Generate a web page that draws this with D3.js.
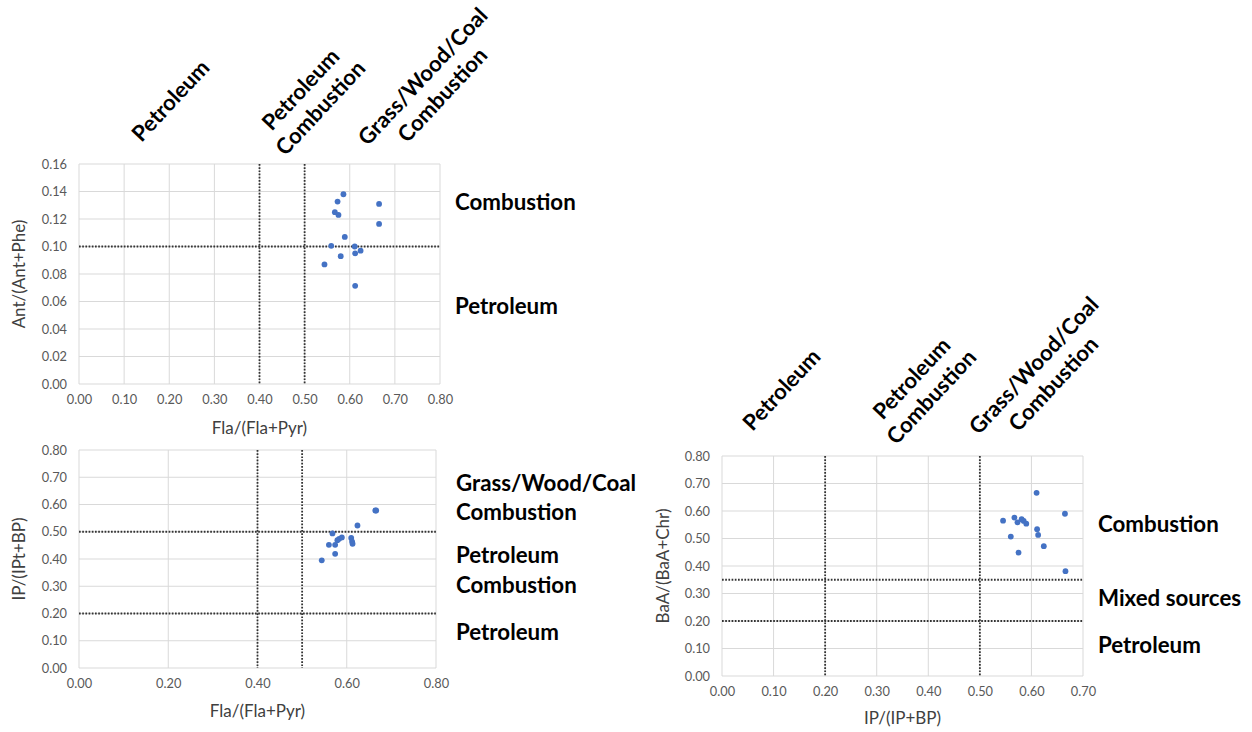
<!DOCTYPE html>
<html><head><meta charset="utf-8">
<script src="https://cdn.jsdelivr.net/npm/d3@7"></script>
<style>body{margin:0;background:#fff}</style>
</head><body>
<svg id="c" width="1252" height="732"></svg>
<script>
// ---- data ----
const p1X = [0.544,0.559,0.567,0.573,0.575,0.580,0.586,0.589,0.611,0.612,0.612,0.624,0.665,0.665];
const p1Y = [0.087,0.1005,0.125,0.1327,0.123,0.093,0.138,0.107,0.100,0.095,0.0714,0.097,0.131,0.1164];
const p2X = [0.544,0.560,0.568,0.574,0.574,0.579,0.583,0.589,0.610,0.612,0.613,0.624,0.664,0.666];
const p2Y = [0.395,0.452,0.494,0.452,0.419,0.469,0.474,0.479,0.477,0.464,0.456,0.523,0.578,0.578];
const p3X = [0.545,0.560,0.567,0.573,0.575,0.581,0.585,0.590,0.610,0.611,0.613,0.624,0.665,0.666];
const p3Y = [0.565,0.507,0.576,0.559,0.449,0.570,0.564,0.554,0.666,0.534,0.513,0.472,0.590,0.381];
const p1XTicks = [0,0.1,0.2,0.3,0.4,0.5,0.6,0.7,0.8];
const p1YTicks = [0,0.02,0.04,0.06,0.08,0.10,0.12,0.14,0.16];
const p2XTicks = [0,0.2,0.4,0.6,0.8];
const p2YTicks = [0,0.1,0.2,0.3,0.4,0.5,0.6,0.7,0.8];
const p3XTicks = [0,0.1,0.2,0.3,0.4,0.5,0.6,0.7];
const p3YTicks = [0,0.1,0.2,0.3,0.4,0.5,0.6,0.7,0.8];
const p1VLines = [0.4,0.5], p1HLines = [0.10];
const p2VLines = [0.4,0.5], p2HLines = [0.5,0.2];
const p3VLines = [0.2,0.5], p3HLines = [0.35,0.20];
const titles = [["Fla/(Fla+Pyr)","Ant/(Ant+Phe)"],["Fla/(Fla+Pyr)","IP/(IPt+BP)"],["IP/(IP+BP)","BaA/(BaA+Chr)"]];

const svg = d3.select("#c");
const FONT = "Lato, 'Open Sans', sans-serif";

function panel(o){
  const x = d3.scaleLinear().domain(o.xd).range([o.x0,o.x1]);
  const y = d3.scaleLinear().domain(o.yd).range([o.y1,o.y0]);
  const g = svg.append("g");
  // grid
  g.selectAll(".vg").data(o.xt).join("line")
    .attr("x1",d=>x(d)).attr("x2",d=>x(d)).attr("y1",o.y0).attr("y2",o.y1)
    .attr("stroke","#d9d9d9").attr("stroke-width",1);
  g.selectAll(".hg").data(o.yt).join("line")
    .attr("y1",d=>y(d)).attr("y2",d=>y(d)).attr("x1",o.x0).attr("x2",o.x1)
    .attr("stroke","#d9d9d9").attr("stroke-width",1);
  // axes
  const xa = g.append("g").attr("transform",`translate(0,${o.y1})`)
    .call(d3.axisBottom(x).tickValues(o.xt).tickFormat(d3.format(".2f")).tickSize(0).tickPadding(11));
  const ya = g.append("g").attr("transform",`translate(${o.x0},0)`)
    .call(d3.axisLeft(y).tickValues(o.yt).tickFormat(d3.format(".2f")).tickSize(0).tickPadding(12));
  [xa,ya].forEach(a=>{
    a.select(".domain").remove();
    a.selectAll("text").attr("fill","#595959").style("font-family",FONT).style("font-size","12.8px");
  });
  // threshold lines
  g.selectAll(".vl").data(o.vl).join("line")
    .attr("x1",d=>x(d)).attr("x2",d=>x(d)).attr("y1",o.y0).attr("y2",o.y1)
    .attr("stroke","#333").attr("stroke-width",1.8).attr("stroke-dasharray","1.7,1.5");
  g.selectAll(".hl").data(o.hl).join("line")
    .attr("y1",d=>y(d)).attr("y2",d=>y(d)).attr("x1",o.x0).attr("x2",o.x1)
    .attr("stroke","#333").attr("stroke-width",1.8).attr("stroke-dasharray","1.7,1.5");
  // points
  g.selectAll("circle").data(o.px.map((v,i)=>[v,o.py[i]])).join("circle")
    .attr("cx",d=>x(d[0])).attr("cy",d=>y(d[1])).attr("r",2.9).attr("fill","#4472c4");
  // titles
  g.append("text").attr("x",(o.x0+o.x1)/2).attr("y",o.xty).attr("text-anchor","middle")
    .attr("dominant-baseline","middle").attr("fill","#404040")
    .style("font-family",FONT).style("font-size","17px").text(o.tt[0]);
  g.append("text").attr("transform",`translate(${o.ytx},${(o.y0+o.y1)/2}) rotate(-90)`)
    .attr("text-anchor","middle").attr("dominant-baseline","middle").attr("fill","#404040")
    .style("font-family",FONT).style("font-size","17px").text(o.tt[1]);
}

panel({x0:79,x1:440,y0:164,y1:384,xd:[0,0.8],yd:[0,0.16],xt:p1XTicks,yt:p1YTicks,vl:p1VLines,hl:p1HLines,px:p1X,py:p1Y,tt:titles[0],xty:430,ytx:21});
panel({x0:79,x1:436,y0:450,y1:668,xd:[0,0.8],yd:[0,0.8],xt:p2XTicks,yt:p2YTicks,vl:p2VLines,hl:p2HLines,px:p2X,py:p2Y,tt:titles[1],xty:713,ytx:21});
panel({x0:722,x1:1083,y0:456,y1:676,xd:[0,0.7],yd:[0,0.8],xt:p3XTicks,yt:p3YTicks,vl:p3VLines,hl:p3HLines,px:p3X,py:p3Y,tt:titles[2],xty:720,ytx:665});

// annotations
const AF = "Lato, 'Open Sans', sans-serif";
function ann(x,y,t){
  svg.append("text").attr("x",x).attr("y",y).attr("dominant-baseline","middle")
    .attr("fill","#000").style("font-family",AF).style("font-weight","bold").style("font-size","22.3px").text(t);
}
function rot(cx,cy,lines){
  const t = svg.append("text").attr("transform",`translate(${cx},${cy}) rotate(-47)`)
    .attr("text-anchor","middle").attr("fill","#000")
    .style("font-family",AF).style("font-weight","bold").style("font-size","22px");
  const n = lines.length, lh = 27;
  lines.forEach((l,i)=>{
    t.append("tspan").attr("x",0).attr("y",(i-(n-1)/2)*lh).attr("dominant-baseline","middle").text(l);
  });
}
ann(455,204,"Combustion");
ann(455,308,"Petroleum");
ann(456,485,"Grass/Wood/Coal");
ann(456,514,"Combustion");
ann(456,557,"Petroleum");
ann(456,587,"Combustion");
ann(456,634,"Petroleum");
ann(1098,526,"Combustion");
ann(1098,600,"Mixed sources");
ann(1098,647,"Petroleum");

rot(172,102,["Petroleum"]);
rot(312,100,["Petroleum","Combustion"]);
rot(434,87,["Grass/Wood/Coal","Combustion"]);
rot(783,391,["Petroleum"]);
rot(923,389,["Petroleum","Combustion"]);
rot(1045,376,["Grass/Wood/Coal","Combustion"]);
</script>
</body></html>
